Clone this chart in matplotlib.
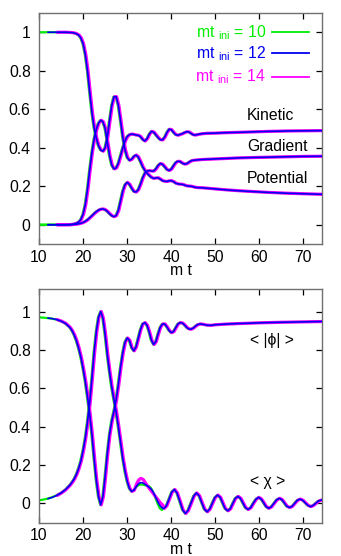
import numpy as np
import matplotlib
matplotlib.use("Agg")
import matplotlib.pyplot as plt

plt.rcParams['font.family'] = ['Liberation Sans', 'DejaVu Sans']
plt.rcParams['mathtext.fontset'] = 'custom'
plt.rcParams['mathtext.rm'] = 'Liberation Sans'
plt.rcParams['mathtext.it'] = 'Liberation Sans'

# ---------------- data ----------------
mt_ini = [10, 12, 14]
run_colors = ['#00ee00', '#0000ee', '#ff00ff']
run_lag = [-0.12, 0.0, 0.12]   # apparent time offset of each run

t_top = [10, 11, 12, 13, 14, 15, 16, 17,
         17.5, 18, 18.5, 19, 19.5, 20, 20.5, 21, 21.5, 22, 22.5, 23, 23.5, 24, 24.5, 25,
         25.5, 26, 26.5, 27, 27.5, 28, 28.5, 29, 29.5, 30, 30.5, 31, 31.5, 32, 32.5, 33,
         33.5, 34, 34.5, 35, 35.5, 36, 36.5, 37, 37.5, 38, 38.5, 39, 39.5, 40, 40.5, 41,
         41.5, 42, 42.5, 43, 43.5, 44, 44.5, 45, 45.5, 46,
         47, 48, 50, 52, 55, 58, 62, 66, 70, 74.5]

potential = [1, 1, 1, 1, 1, 1, 1, 0.999,
             0.998, 0.996, 0.992, 0.985, 0.97, 0.94, 0.885, 0.80, 0.69, 0.585, 0.505, 0.45, 0.41, 0.388, 0.382, 0.40,
             0.455, 0.54, 0.62, 0.665, 0.665, 0.62, 0.54, 0.455, 0.39, 0.35, 0.335, 0.34, 0.355, 0.362, 0.352, 0.328,
             0.302, 0.282, 0.268, 0.256, 0.246, 0.241, 0.243, 0.244, 0.237, 0.229, 0.226, 0.225, 0.228, 0.229, 0.224, 0.216,
             0.212, 0.211, 0.21, 0.206, 0.202, 0.201, 0.2, 0.197, 0.194, 0.193,
             0.192, 0.19, 0.186, 0.182, 0.177, 0.173, 0.168, 0.164, 0.161, 0.158]

kinetic = [0, 0, 0, 0, 0, 0, 0, 0.001,
           0.002, 0.004, 0.008, 0.014, 0.028, 0.055, 0.105, 0.185, 0.285, 0.375, 0.445, 0.495, 0.528, 0.543, 0.535, 0.50,
           0.43, 0.36, 0.31, 0.29, 0.295, 0.32, 0.36, 0.40, 0.435, 0.458, 0.468, 0.471, 0.469, 0.466, 0.465, 0.458,
           0.443, 0.435, 0.447, 0.47, 0.485, 0.481, 0.467, 0.453, 0.442, 0.441, 0.455, 0.479, 0.496, 0.494, 0.48, 0.468,
           0.465, 0.469, 0.473, 0.479, 0.483, 0.482, 0.474, 0.467, 0.466, 0.469,
           0.473, 0.475, 0.476, 0.478, 0.48, 0.482, 0.485, 0.487, 0.488, 0.489]

gradient = [0, 0, 0, 0, 0, 0, 0, 0,
            0.001, 0.002, 0.003, 0.005, 0.008, 0.012, 0.018, 0.026, 0.036, 0.047, 0.058, 0.068, 0.076, 0.081, 0.082, 0.078,
            0.069, 0.057, 0.047, 0.042, 0.048, 0.075, 0.125, 0.175, 0.208, 0.22, 0.21, 0.19, 0.173, 0.17, 0.182, 0.21,
            0.243, 0.268, 0.279, 0.281, 0.279, 0.279, 0.29, 0.308, 0.318, 0.314, 0.301, 0.287, 0.282, 0.289, 0.307, 0.323,
            0.33, 0.328, 0.32, 0.315, 0.317, 0.325, 0.332, 0.335, 0.336, 0.337,
            0.339, 0.34, 0.342, 0.344, 0.347, 0.349, 0.351, 0.353, 0.355, 0.356]

t_phi = [10, 11, 12, 13, 14, 15, 16, 17,
         17.5, 18, 18.5, 19, 19.5, 20, 20.5, 21, 21.5, 22, 22.5, 23, 23.5, 24, 24.5, 25,
         25.5, 26, 26.5, 27, 27.5, 28, 28.5, 29, 29.5, 30, 30.5, 31, 31.5, 32, 32.5, 33,
         33.5, 34, 34.5, 35, 35.5, 36, 36.5, 37, 37.5, 38, 38.5, 39, 39.5, 40, 40.5, 41,
         41.5, 42, 42.5, 43, 43.5, 44, 44.5, 45, 45.5, 46, 46.5, 47,
         48, 49, 50, 52, 55, 60, 65, 70, 74.5]
phi = [0.970, 0.968, 0.966, 0.963, 0.958, 0.950, 0.938, 0.917,
       0.9, 0.877, 0.847, 0.808, 0.762, 0.703, 0.635, 0.555, 0.465, 0.36, 0.235, 0.12, 0.035, -0.008, 0.035, 0.14,
       0.26, 0.36, 0.43, 0.48, 0.54, 0.62, 0.71, 0.785, 0.84, 0.862, 0.85, 0.812, 0.795, 0.815, 0.86, 0.905,
       0.935, 0.942, 0.928, 0.893, 0.85, 0.828, 0.843, 0.883, 0.918, 0.935, 0.935, 0.92, 0.901, 0.89, 0.895, 0.915,
       0.935, 0.942, 0.94, 0.93, 0.917, 0.909, 0.908, 0.914, 0.924, 0.932, 0.935, 0.934,
       0.929, 0.928, 0.931, 0.934, 0.937, 0.941, 0.944, 0.946, 0.948]

t_chi = [10, 11, 12, 13, 14, 15, 16, 17,
         17.5, 18, 18.5, 19, 19.5, 20, 20.5, 21, 21.5, 22, 22.5, 23, 23.5, 24, 24.5, 25,
         25.5, 26, 26.5, 27, 27.5, 28, 28.5, 29, 29.5, 30, 30.5, 31, 31.5, 32, 32.5, 33,
         33.5, 34, 34.5, 35, 35.5, 36, 36.5, 37, 37.5, 38,
         38.3, 38.9, 39.5, 40.1, 40.7, 41.3, 41.95, 42.6, 43.2, 43.8, 44.45, 45.1, 45.7,
         46.3, 46.9, 47.5, 48.1, 48.7, 49.3, 49.9, 50.5, 51.1, 51.65, 52.2, 52.8,
         53.4, 53.95, 54.5, 55.1, 55.7, 56.25, 56.8, 57.4, 58.0, 58.6, 59.2, 59.8,
         60.4, 60.95, 61.5, 62.1, 62.7, 63.3, 63.9, 64.5, 65.1, 65.65, 66.2, 66.8,
         67.4, 68.0, 68.6, 69.2, 69.8, 70.4, 71.0, 71.6, 72.2, 72.8, 73.4, 74.0, 74.5]
chi = [0.015, 0.019, 0.024, 0.031, 0.041, 0.054, 0.071, 0.095,
       0.11, 0.128, 0.152, 0.183, 0.222, 0.275, 0.34, 0.425, 0.525, 0.65, 0.785, 0.895, 0.97, 1.0, 0.965, 0.88,
       0.775, 0.685, 0.605, 0.54, 0.475, 0.4, 0.318, 0.235, 0.168, 0.115, 0.078, 0.062, 0.068, 0.085, 0.1, 0.108,
       0.107, 0.1, 0.092, 0.084, 0.073, 0.054, 0.03, 0.006, -0.014, -0.025,
       -0.027, -0.013, 0.022, 0.058, 0.072, 0.054, 0.01, -0.035, -0.053, -0.037, 0.0, 0.038, 0.054,
       0.04, 0.005, -0.03, -0.044, -0.031, 0.0, 0.03, 0.043, 0.031, 0.002, -0.027, -0.039,
       -0.028, -0.001, 0.025, 0.036, 0.026, 0.002, -0.022, -0.032, -0.023, 0.0, 0.021, 0.031,
       0.022, 0.003, -0.017, -0.026, -0.018, 0.0, 0.018, 0.026, 0.019, 0.002, -0.015, -0.022,
       -0.016, 0.0, 0.016, 0.022, 0.016, 0.0025, -0.011, -0.017, -0.011, 0.001, 0.012, 0.017, 0.019]

# runs differ visibly for <chi> around mt = 32-38
t_chi_mid = [32, 32.5, 33, 33.5, 34, 34.5, 35, 35.5, 36, 36.5, 37, 37.5, 38]
chi_mid = {
    10: [0.08, 0.092, 0.098, 0.098, 0.095, 0.093, 0.09, 0.08, 0.06, 0.03, 0.0, -0.025, -0.035],
    12: [0.085, 0.1, 0.108, 0.107, 0.1, 0.092, 0.084, 0.073, 0.054, 0.03, 0.006, -0.014, -0.025],
    14: [0.1, 0.122, 0.13, 0.125, 0.108, 0.09, 0.075, 0.06, 0.045, 0.03, 0.015, 0.0, -0.01],
}

x_ticks = [10, 20, 30, 40, 50, 60, 70]
y_ticks = [0, 0.2, 0.4, 0.6, 0.8, 1]
y_ticklabels = ['0', '0.2', '0.4', '0.6', '0.8', '1']

# ---------------- figure ----------------
fig = plt.figure(figsize=(3.41, 5.56), dpi=100)
W, H = 341.0, 556.0
ax1 = fig.add_axes([39 / W, 1 - 244 / H, 283 / W, 231 / H])
ax2 = fig.add_axes([39 / W, 1 - 522.5 / H, 283 / W, 234 / H])

lws = [1.6, 1.2, 2.3]
zs = [2, 4, 3]
FS = 11.3


def draw(ax, tt, vals, k, values_override=None):
    t = np.asarray(tt, float)
    v = np.asarray(vals if values_override is None else values_override, float)
    m = t >= mt_ini[k]
    ax.plot(t[m] + run_lag[k], v[m], color=run_colors[k], lw=lws[k],
            zorder=zs[k], solid_capstyle='round', clip_on=True)


for k in range(3):
    for series in (potential, kinetic, gradient):
        draw(ax1, t_top, series, k)
    draw(ax2, t_phi, phi, k)
    chi_k = list(chi)
    for i, tm in enumerate(t_chi_mid):
        chi_k[t_chi.index(tm)] = chi_mid[mt_ini[k]][i]
    draw(ax2, t_chi, chi_k, k)

for ax, ylim in ((ax1, (-0.1, 1.1)), (ax2, (-0.1, 1.12))):
    ax.set_xlim(10, 74.2)
    ax.set_ylim(*ylim)
    ax.set_xticks(x_ticks)
    ax.set_yticks(y_ticks)
    ax.set_yticklabels(y_ticklabels)
    ax.tick_params(direction='in', length=4, width=0.9, top=True, right=True,
                   labelsize=FS, pad=4, colors='black')
    ax.tick_params(axis='y', pad=6)
    for s in ax.spines.values():
        s.set_color('#707070')
        s.set_linewidth(1.0)
    ax.set_xlabel('m t', fontsize=FS, labelpad=-1)

# legend (drawn manually, gnuplot style)
leg_y = [32.3, 53.3, 77.0]
for k in range(3):
    ya = (244 - leg_y[k]) / 231
    ax1.text((266 - 39) / 283, ya, 'mt $_{\\mathrm{ini}}$ = %d' % mt_ini[k],
             transform=ax1.transAxes, ha='right', va='center', fontsize=FS,
             color=run_colors[k])
    ax1.plot([(272 - 39) / 283, (309 - 39) / 283], [ya, ya], transform=ax1.transAxes,
             color=run_colors[k], lw=1.3)

# curve labels
ax1.text(57.2, 0.568, 'Kinetic', fontsize=FS, va='center', ha='left')
ax1.text(57.2, 0.408, 'Gradient', fontsize=FS, va='center', ha='left')
ax1.text(57.2, 0.238, 'Potential', fontsize=FS, va='center', ha='left')
ax2.text(57.9, 0.848, '< |\u03d5| >', fontsize=FS, va='center', ha='left')
ax2.text(57.9, 0.112, '< \u03c7 >', fontsize=FS, va='center', ha='left')

fig.savefig('out.png', dpi=100)
